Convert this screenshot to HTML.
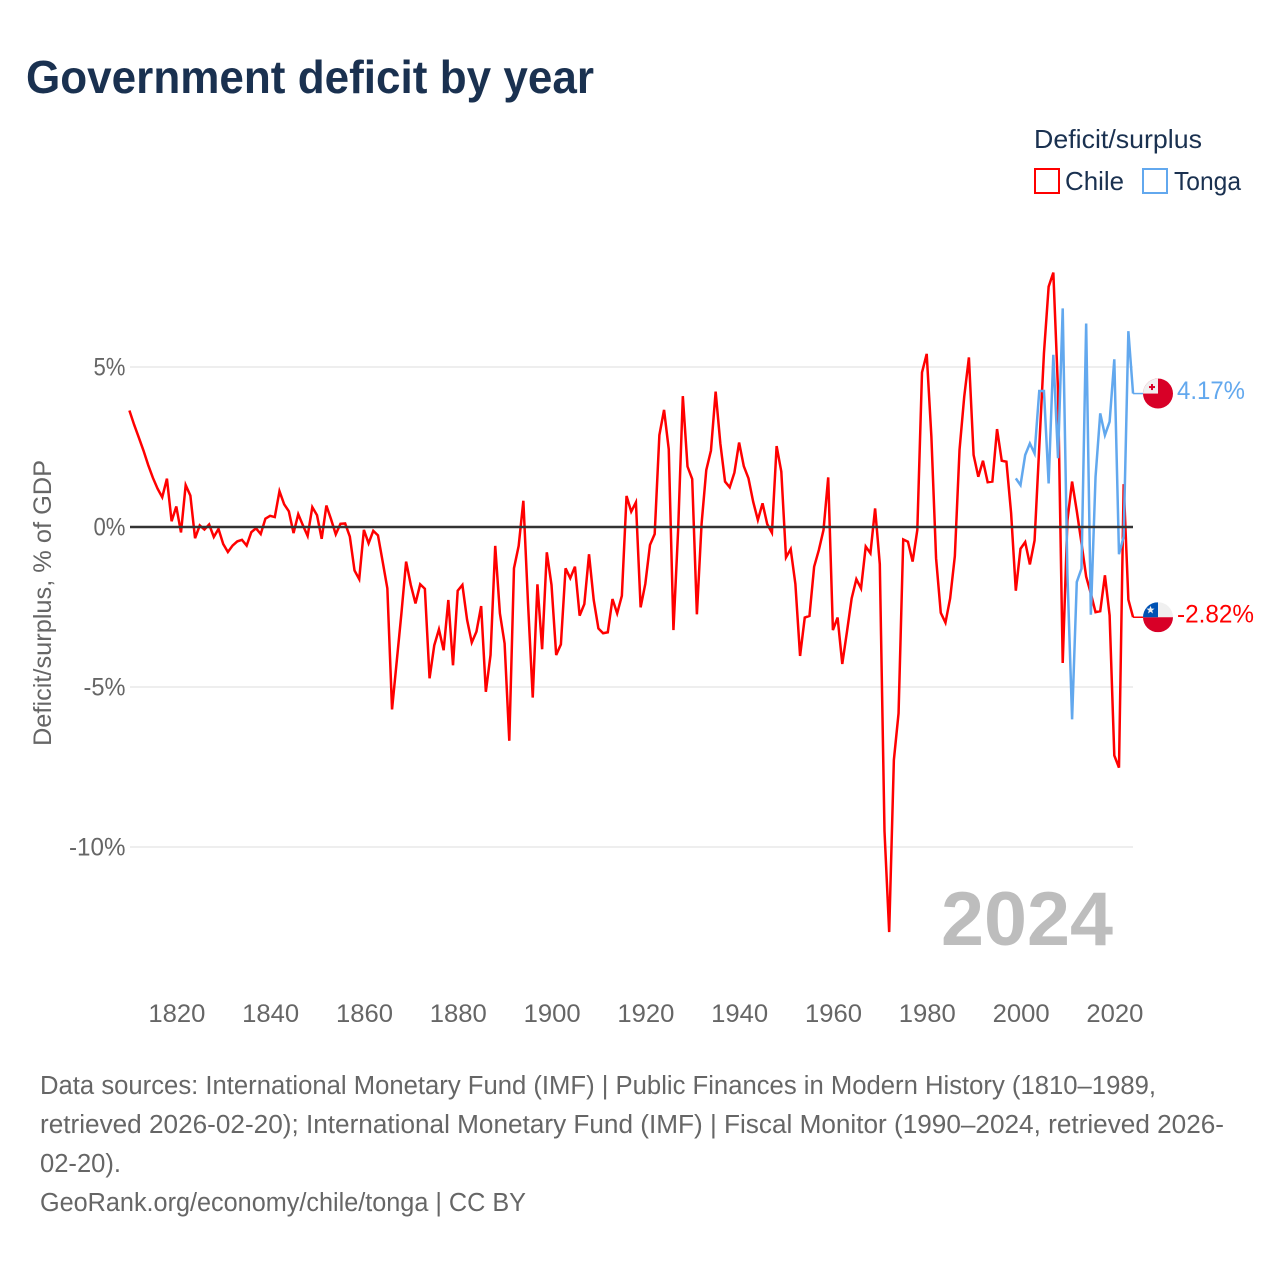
<!DOCTYPE html>
<html lang="en">
<head>
<meta charset="utf-8">
<title>Government deficit by year</title>
<style>
html,body{margin:0;padding:0;background:#fff;}
svg{display:block;font-family:"Liberation Sans",Arial,sans-serif;}
</style>
</head>
<body>
<svg id="chart" xmlns="http://www.w3.org/2000/svg" width="1280" height="1280" viewBox="0 0 1280 1280">
  <defs>
    <clipPath id="flag-clip"><circle cx="0" cy="0" r="15"/></clipPath>
  </defs>
  <rect x="0" y="0" width="1280" height="1280" fill="#ffffff"/>
  <text x="26" y="93" font-size="46" font-weight="700" fill="#1a3150" textLength="568" lengthAdjust="spacingAndGlyphs">Government deficit by year</text>

  <g>
    <text x="1034" y="148" font-size="26" fill="#1a3150" textLength="168" lengthAdjust="spacingAndGlyphs">Deficit/surplus</text>
    <rect x="1035" y="169" width="24" height="24" fill="none" stroke="#ff0000" stroke-width="2"/>
    <text x="1065" y="190" font-size="26" fill="#1a3150" textLength="59" lengthAdjust="spacingAndGlyphs">Chile</text>
    <rect x="1143" y="169" width="24" height="24" fill="none" stroke="#62a8ee" stroke-width="2"/>
    <text x="1174" y="190" font-size="26" fill="#1a3150" textLength="67" lengthAdjust="spacingAndGlyphs">Tonga</text>
  </g>

  <text transform="translate(51,603) rotate(-90)" text-anchor="middle" font-size="25" fill="#666666" textLength="286" lengthAdjust="spacingAndGlyphs">Deficit/surplus, % of GDP</text>

  <g id="grid"></g>
  <g id="y-ticks"></g>
  <g id="x-ticks"></g>

  <text x="941" y="945" font-size="76" font-weight="700" fill="#bdbdbd" textLength="172" lengthAdjust="spacingAndGlyphs">2024</text>

  <g id="series"></g>
  <g id="zero"></g>

  <g id="flag-tonga">
    <g clip-path="url(#flag-clip)">
      <rect x="-15" y="-15" width="30" height="30" fill="#d80027"/>
      <rect x="-15" y="-15" width="15" height="15" fill="#f0f0f0"/>
      <rect x="-7" y="-9.5" width="2" height="6" fill="#d80027"/>
      <rect x="-9" y="-7.5" width="6" height="2" fill="#d80027"/>
    </g>
  </g>
  <g id="flag-chile">
    <g clip-path="url(#flag-clip)">
      <rect x="-15" y="-15" width="30" height="15" fill="#f0f0f0"/>
      <rect x="-15" y="0" width="30" height="15" fill="#d80027"/>
      <rect x="-15" y="-15" width="15" height="15" fill="#0052b4"/>
      <polygon points="-7.5,-11.5 -6.4,-8.6 -3.5,-8.6 -5.8,-6.7 -5,-3.8 -7.5,-5.5 -10,-3.8 -9.2,-6.7 -11.5,-8.6 -8.6,-8.6" fill="#f0f0f0"/>
    </g>
  </g>
  <text id="label-tonga" x="1177" font-size="25" fill="#62a8ee" textLength="68" lengthAdjust="spacingAndGlyphs"></text>
  <text id="label-chile" x="1177" font-size="25" fill="#ff0000" textLength="77" lengthAdjust="spacingAndGlyphs"></text>

  <g font-size="25.5" fill="#666666">
    <text x="40" y="1094" textLength="1116" lengthAdjust="spacingAndGlyphs">Data sources: International Monetary Fund (IMF) | Public Finances in Modern History (1810–1989,</text>
    <text x="40" y="1133" textLength="1184" lengthAdjust="spacingAndGlyphs">retrieved 2026-02-20); International Monetary Fund (IMF) | Fiscal Monitor (1990–2024, retrieved 2026-</text>
    <text x="40" y="1172" textLength="81" lengthAdjust="spacingAndGlyphs">02-20).</text>
    <text x="40" y="1211" textLength="486" lengthAdjust="spacingAndGlyphs">GeoRank.org/economy/chile/tonga | CC BY</text>
  </g>
</svg>

<script>
var chileStartYear = 1810;
var tongaStartYear = 1999;
var chileValues = [
  3.64,3.2,2.8,2.39,1.94,1.54,1.2,0.93,1.51,0.18,
  0.64,-0.17,1.31,0.98,-0.35,0.05,-0.08,0.08,-0.31,-0.06,
  -0.53,-0.78,-0.58,-0.45,-0.40,-0.58,-0.16,-0.04,-0.22,0.26,
  0.35,0.31,1.12,0.71,0.49,-0.19,0.40,0.05,-0.28,0.62,
  0.37,-0.37,0.67,0.24,-0.23,0.1,0.11,-0.3,-1.36,-1.63,
  -0.09,-0.51,-0.12,-0.26,-1.08,-1.92,-5.7,-4.2,-2.7,-1.08,
  -1.81,-2.39,-1.79,-1.93,-4.73,-3.7,-3.2,-3.85,-2.28,-4.32,
  -1.99,-1.81,-2.9,-3.61,-3.27,-2.47,-5.15,-4.0,-0.59,-2.7,
  -3.64,-6.68,-1.29,-0.59,0.82,-2.4,-5.33,-1.79,-3.82,-0.79,
  -1.81,-4.0,-3.67,-1.29,-1.6,-1.24,-2.77,-2.41,-0.85,-2.28,
  -3.17,-3.32,-3.29,-2.25,-2.7,-2.15,0.97,0.48,0.77,-2.51,
  -1.78,-0.56,-0.22,2.87,3.66,2.43,-3.22,-0.1,4.09,1.89,
  1.5,-2.73,0.1,1.78,2.39,4.23,2.61,1.42,1.24,1.7,
  2.64,1.9,1.52,0.79,0.22,0.74,0.09,-0.18,2.53,1.73,
  -0.95,-0.69,-1.78,-4.03,-2.83,-2.78,-1.24,-0.72,-0.09,1.55,
  -3.22,-2.83,-4.28,-3.27,-2.23,-1.63,-1.92,-0.61,-0.82,0.58,
  -1.16,-9.5,-12.66,-7.28,-5.82,-0.39,-0.46,-1.08,-0.09,4.83,
  5.41,2.82,-0.98,-2.68,-2.99,-2.23,-0.91,2.41,4.07,5.3,
  2.25,1.57,2.07,1.4,1.42,3.06,2.07,2.04,0.43,-1.99,
  -0.68,-0.47,-1.17,-0.42,2.5,5.43,7.51,7.95,4.28,-4.25,
  0.2,1.42,0.5,-0.5,-1.55,-2.08,-2.66,-2.63,-1.51,-2.76,
  -7.14,-7.52,1.34,-2.27,-2.82
];
var tongaValues = [
  1.52,1.31,2.25,2.61,2.3,4.25,4.25,1.36,5.38,2.15,
  6.83,-1.45,-6.01,-1.72,-1.3,6.36,-2.74,1.57,3.55,2.87,
  3.29,5.24,-0.85,-0.3,6.12,4.17
];
var xTickYears = [1820,1840,1860,1880,1900,1920,1940,1960,1980,2000,2020];
var yTickValues = [5,0,-5,-10];

var SVG_NS = 'http://www.w3.org/2000/svg';
function xScale(year){ return 129.4 + (year - 1810) * 4.69; }
function yScale(v){ return 527 - v * 32; }
function make(tag, parent, attrs){
  var el = document.createElementNS(SVG_NS, tag);
  for (var k in attrs) el.setAttribute(k, attrs[k]);
  parent.appendChild(el);
  return el;
}

var gridG = document.getElementById('grid');
var yG = document.getElementById('y-ticks');
var xG = document.getElementById('x-ticks');
var seriesG = document.getElementById('series');
var zeroG = document.getElementById('zero');

yTickValues.forEach(function(v){
  var y = yScale(v);
  var target = v === 0 ? zeroG : gridG;
  var line = make('line', target, {x1:130, x2:1133, y1:y, y2:y, stroke: v === 0 ? '#333333' : '#e8e8e8', 'stroke-width': v === 0 ? 2.4 : 1.5});
  
  
  var s = v + '%';
  var w = String(Math.abs(v)).length * 14.5 + 17.5 + (v < 0 ? 10 : 0);
  var t = make('text', yG, {x:125.5, y:y + 8.5, 'text-anchor':'end', 'font-size':25, fill:'#666666', textLength:w, lengthAdjust:'spacingAndGlyphs'});
  t.textContent = s;
  
  
});

xTickYears.forEach(function(yr){
  var t = make('text', xG, {x:xScale(yr) + 0.6, y:1022, 'text-anchor':'middle', 'font-size':25, fill:'#666666', textLength:57, lengthAdjust:'spacingAndGlyphs'});
  t.textContent = String(yr);
  
  
});

function pathFor(values, start){
  return values.map(function(v, i){
    return (i ? 'L' : 'M') + xScale(start + i).toFixed(2) + ' ' + yScale(v).toFixed(2);
  }).join(' ');
}

var chileLine = make('path', seriesG, {d:pathFor(chileValues, chileStartYear), fill:'none', stroke:'#ff0000', 'stroke-width':2.5});



var tongaLine = make('path', seriesG, {d:pathFor(tongaValues, tongaStartYear), fill:'none', stroke:'#62a8ee', 'stroke-width':2.5});



function endMarks(values, start, color, flagId, labelId){
  var last = values[values.length - 1];
  var y = yScale(last);
  var x = xScale(start + values.length - 1);
  var conn = make('line', seriesG, {x1:x, x2:1143, y1:y, y2:y, stroke:color, 'stroke-width':1.5});
  
  
  document.getElementById(flagId).setAttribute('transform', 'translate(1158,' + y + ')');
  var lab = document.getElementById(labelId);
  lab.setAttribute('y', y + 5.5);
  lab.textContent = last.toFixed(2) + '%';
}
endMarks(tongaValues, tongaStartYear, '#62a8ee', 'flag-tonga', 'label-tonga');
endMarks(chileValues, chileStartYear, '#ff0000', 'flag-chile', 'label-chile');
</script>
</body>
</html>
